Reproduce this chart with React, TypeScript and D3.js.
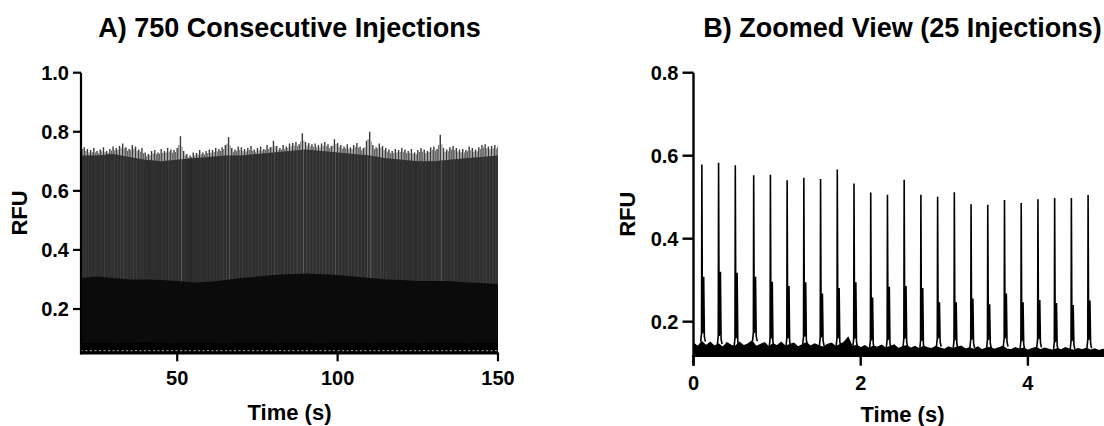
import React from "react";
import * as d3 from "d3";

// ---------- Panel A data (envelopes of 750 consecutive injections) ----------
const aStart = 20; // s, first envelope sample
const aTopEnvelope = [
  0.755, 0.748, 0.742, 0.738, 0.745, 0.735, 0.74, 0.748, 0.735, 0.742,
  0.75, 0.745, 0.752, 0.76, 0.748, 0.742, 0.755, 0.75, 0.74, 0.745,
  0.73, 0.725, 0.735, 0.738, 0.73, 0.742, 0.735, 0.745, 0.74, 0.738,
  0.745, 0.785, 0.735, 0.725, 0.72, 0.73, 0.728, 0.738, 0.73, 0.735,
  0.74, 0.738, 0.745, 0.742, 0.748, 0.755, 0.782, 0.745, 0.74, 0.75,
  0.748, 0.742, 0.745, 0.752, 0.74, 0.745, 0.75, 0.742, 0.755, 0.748,
  0.77, 0.752, 0.745, 0.755, 0.75, 0.76, 0.762, 0.765, 0.758, 0.795,
  0.765, 0.762, 0.758, 0.76, 0.755, 0.76, 0.765, 0.758, 0.752, 0.775,
  0.762, 0.755, 0.75, 0.758, 0.748, 0.755, 0.762, 0.75, 0.745, 0.77,
  0.8, 0.755, 0.748, 0.76, 0.752, 0.745, 0.74, 0.735, 0.742, 0.738,
  0.745, 0.74, 0.735, 0.742, 0.73, 0.738, 0.745, 0.74, 0.735, 0.748,
  0.75, 0.742, 0.79, 0.745, 0.74, 0.748, 0.752, 0.745, 0.74, 0.742,
  0.738, 0.75, 0.745, 0.74, 0.748, 0.755, 0.758, 0.75, 0.752, 0.755,
  0.75,
];
const aCoarseStep = 5; // s, spacing of coarse envelopes
const aDenseTop = [
  0.72, 0.72, 0.725, 0.715, 0.705, 0.7, 0.705, 0.71, 0.715, 0.72,
  0.72, 0.725, 0.73, 0.735, 0.74, 0.735, 0.73, 0.725, 0.72, 0.71,
  0.705, 0.7, 0.7, 0.705, 0.71, 0.715, 0.72,
];
const aSecondaryTop = [
  0.305, 0.31, 0.305, 0.3, 0.3, 0.298, 0.295, 0.29, 0.292, 0.298,
  0.305, 0.31, 0.315, 0.318, 0.32, 0.318, 0.315, 0.31, 0.305, 0.3,
  0.298, 0.295, 0.295, 0.295, 0.29, 0.288, 0.285,
];
const aBaselineTop = [
  0.085, 0.086, 0.084, 0.085, 0.087, 0.085, 0.084, 0.086, 0.085, 0.084,
  0.085, 0.086, 0.084, 0.085, 0.085, 0.084, 0.085, 0.086, 0.084, 0.085,
  0.085, 0.084, 0.085, 0.086, 0.084, 0.085, 0.085,
];
const aXTicks = [50, 100, 150];
const aYTicks = [0.2, 0.4, 0.6, 0.8, 1.0];

// ---------- Panel B data (25 injections, zoomed) ----------
const bPeakTimes = [
  0.1, 0.3, 0.5, 0.72, 0.92, 1.12, 1.32, 1.52, 1.72, 1.92, 2.12, 2.32,
  2.52, 2.72, 2.92, 3.12, 3.32, 3.52, 3.72, 3.92, 4.12, 4.32, 4.52, 4.72,
];
const bMainHeights = [
  0.579, 0.583, 0.577, 0.553, 0.554, 0.541, 0.547, 0.544, 0.567, 0.533,
  0.511, 0.506, 0.542, 0.506, 0.501, 0.512, 0.483, 0.482, 0.493, 0.486,
  0.495, 0.498, 0.498, 0.505,
];
const bSecondHeights = [
  0.308, 0.32, 0.318, 0.308, 0.296, 0.286, 0.295, 0.268, 0.281, 0.295,
  0.258, 0.284, 0.286, 0.281, 0.247, 0.247, 0.256, 0.242, 0.268, 0.247,
  0.252, 0.245, 0.24, 0.251,
];
const bBaseStep = 0.05; // s
const bBaseline = [
  0.148, 0.14, 0.152, 0.142, 0.15, 0.141, 0.146, 0.138, 0.149, 0.143,
  0.14, 0.15, 0.142, 0.146, 0.153, 0.14, 0.145, 0.149, 0.139, 0.146,
  0.142, 0.15, 0.14, 0.145, 0.148, 0.139, 0.144, 0.149, 0.141, 0.146,
  0.142, 0.138, 0.145, 0.148, 0.14, 0.144, 0.15, 0.162, 0.139, 0.143,
  0.137, 0.142, 0.135, 0.141, 0.138, 0.143, 0.136, 0.14, 0.144, 0.135,
  0.139, 0.142, 0.136, 0.14, 0.134, 0.141, 0.137, 0.135, 0.14, 0.136,
  0.133, 0.139, 0.135, 0.138, 0.141, 0.134, 0.137, 0.133, 0.139, 0.132,
  0.136, 0.138, 0.133, 0.137, 0.14, 0.134, 0.132, 0.137, 0.133, 0.136,
  0.131, 0.135, 0.138, 0.132, 0.136, 0.133, 0.131, 0.135, 0.132, 0.137,
  0.133, 0.131, 0.135, 0.132, 0.136, 0.131, 0.134, 0.13, 0.133, 0.131,
  0.132,
];
const bXTicks = [0, 2, 4];
const bYTicks = [0.2, 0.4, 0.6, 0.8];

const FONT = "'Liberation Sans', Arial, Helvetica, sans-serif";

export default function App() {
  const W = 1104;
  const H = 426;

  // scales
  const xA = d3.scaleLinear().domain([20, 150]).range([81, 498]);
  const yA = d3.scaleLinear().domain([0.05, 1.0]).range([353.3, 72.7]);
  const xB = d3.scaleLinear().domain([0, 5]).range([693.5, 1111.5]);
  const yB = d3.scaleLinear().domain([0.118, 0.8]).range([355.7, 72.7]);

  // Panel A
  const coarse = (arr: number[]) =>
    arr.map((v, i) => [aStart + i * aCoarseStep, v] as [number, number]);
  const areaA = d3
    .area<[number, number]>()
    .x((d) => xA(d[0]))
    .y0(yA(0.05))
    .y1((d) => yA(d[1]));
  const densePath = areaA(coarse(aDenseTop)) as string;
  const stepPx = xA(aStart + 1) - xA(aStart);
  // streak shade follows the local peak height
  const streakShade = d3
    .scaleLinear<string>()
    .domain([0.72, 0.745, 0.8])
    .range(["#262626", "#3c3c3c", "#6e6e6e"])
    .clamp(true);
  const fringeShade = d3
    .scaleLinear<string>()
    .domain([0.72, 0.8])
    .range(["#4a4a4a", "#8c8c8c"])
    .clamp(true);

  // Panel B
  const areaB = d3
    .area<[number, number]>()
    .x((d) => xB(d[0]))
    .y0(yB(0.118))
    .y1((d) => yB(d[1]));
  const lineB = d3
    .line<[number, number]>()
    .x((d) => xB(d[0]))
    .y((d) => yB(d[1]));
  const basePts = bBaseline.map((v, i) => [i * bBaseStep, v] as [number, number]);
  const baseAt = (t: number) =>
    bBaseline[Math.min(bBaseline.length - 1, Math.round(t / bBaseStep))];
  const peakPaths = bPeakTimes.map((t, i) => {
    const b = baseAt(t);
    const pts: [number, number][] = [
      [t - 0.014, b],
      [t - 0.004, b + 0.02],
      [t, bMainHeights[i]],
      [t + 0.007, b + 0.02],
      [t + 0.015, b + 0.03],
      [t + 0.022, bSecondHeights[i]],
      [t + 0.03, b + 0.012],
      [t + 0.042, b],
    ];
    return lineB(pts) as string;
  });

  const tickFont = { fontFamily: FONT, fontWeight: 700, fontSize: 20, fill: "#000" } as const;

  return (
    <>
      <style>{`body{margin:0;}`}</style>
      <svg width={W} height={H} style={{ display: "block", background: "#fff" }}>
        <defs>
          <clipPath id="clipA">
            <rect x={xA(20)} y={60} width={xA(150) - xA(20)} height={yA(0.05) - 60} />
          </clipPath>
          <clipPath id="clipDense">
            <path d={densePath} />
          </clipPath>
          <clipPath id="clipB">
            <rect x={xB(0)} y={60} width={W - xB(0)} height={yB(0.118) - 60} />
          </clipPath>
        </defs>

        {/* Titles */}
        <text x={(xA(20) + xA(150)) / 2} y={37} textAnchor="middle" style={{ ...tickFont, fontSize: 27 }}>
          A) 750 Consecutive Injections
        </text>
        <text x={(xB(0) + xB(5)) / 2} y={37} textAnchor="middle" style={{ ...tickFont, fontSize: 27 }}>
          B) Zoomed View (25 Injections)
        </text>

        {/* ---------- Panel A ---------- */}
        <g clipPath="url(#clipA)">
          {/* upper fringe: individual peak tops */}
          {aTopEnvelope.map((v, i) => (
            <line
              key={"fr" + i}
              x1={xA(aStart + i)}
              x2={xA(aStart + i)}
              y1={yA(0.6)}
              y2={yA(v)}
              stroke="#3a3a3a"
              strokeWidth={1.4}
            />
          ))}
          {aTopEnvelope.map((v, i) => (
            <line
              key={"fr2" + i}
              x1={xA(aStart + i) + stepPx / 2}
              x2={xA(aStart + i) + stepPx / 2}
              y1={yA(0.6)}
              y2={yA((v + (aTopEnvelope[i + 1] ?? v)) / 2 - 0.01)}
              stroke={fringeShade(v)}
              strokeWidth={1}
            />
          ))}
          {/* dense body */}
          <path d={densePath} fill="#2e2e2e" />
          <g clipPath="url(#clipDense)">
            {aTopEnvelope.map((v, i) => (
              <line
                key={"st" + i}
                x1={xA(aStart + i) + stepPx * 0.35}
                x2={xA(aStart + i) + stepPx * 0.35}
                y1={yA(0.1)}
                y2={yA(v)}
                stroke={streakShade(v)}
                strokeWidth={0.9}
              />
            ))}
          </g>
          <path d={areaA(coarse(aSecondaryTop)) as string} fill="#0b0b0b" />
          <path d={areaA(coarse(aBaselineTop)) as string} fill="#000" />
          <line
            x1={xA(20)}
            x2={xA(150)}
            y1={yA(0.059)}
            y2={yA(0.059)}
            stroke="#d8d8d8"
            strokeWidth={0.8}
            strokeDasharray="2 2.5"
          />
        </g>
        {/* axes A */}
        <line x1={xA(20)} x2={xA(20)} y1={yA(1.0)} y2={yA(0.05) + 1} stroke="#000" strokeWidth={2.2} />
        <line x1={xA(20) - 1} x2={xA(150) + 1} y1={yA(0.05)} y2={yA(0.05)} stroke="#000" strokeWidth={2.2} />
        {aYTicks.map((t) => (
          <g key={"ay" + t}>
            <line x1={xA(20) - 8} x2={xA(20)} y1={yA(t)} y2={yA(t)} stroke="#000" strokeWidth={2.2} />
            <text x={xA(20) - 12} y={yA(t) + 7} textAnchor="end" style={tickFont}>
              {t.toFixed(1)}
            </text>
          </g>
        ))}
        {aXTicks.map((t) => (
          <g key={"ax" + t}>
            <line x1={xA(t)} x2={xA(t)} y1={yA(0.05)} y2={yA(0.05) + 8} stroke="#000" strokeWidth={2.2} />
            <text x={xA(t)} y={385} textAnchor="middle" style={tickFont}>
              {t}
            </text>
          </g>
        ))}
        <text x={(xA(20) + xA(150)) / 2} y={420} textAnchor="middle" style={{ ...tickFont, fontSize: 22 }}>
          Time (s)
        </text>
        <text
          transform={`translate(27, ${(yA(1.0) + yA(0.05)) / 2}) rotate(-90)`}
          textAnchor="middle"
          style={{ ...tickFont, fontSize: 22 }}
        >
          RFU
        </text>

        {/* ---------- Panel B ---------- */}
        <g clipPath="url(#clipB)">
          <path d={areaB(basePts) as string} fill="#000" />
          <path d={lineB(basePts) as string} fill="none" stroke="#000" strokeWidth={1.3} />
          {peakPaths.map((p, i) => (
            <path key={"pk" + i} d={p} fill="none" stroke="#000" strokeWidth={1.6} strokeLinejoin="miter" />
          ))}
        </g>
        <line x1={xB(0)} x2={xB(0)} y1={yB(0.8)} y2={yB(0.118) + 10} stroke="#000" strokeWidth={2.4} />
        <line x1={xB(0) - 1} x2={W} y1={yB(0.118)} y2={yB(0.118)} stroke="#000" strokeWidth={2.4} />
        {bYTicks.map((t) => (
          <g key={"by" + t}>
            <line x1={xB(0) - 11} x2={xB(0)} y1={yB(t)} y2={yB(t)} stroke="#000" strokeWidth={2.4} />
            <text x={xB(0) - 15} y={yB(t) + 7} textAnchor="end" style={tickFont}>
              {t.toFixed(1)}
            </text>
          </g>
        ))}
        {bXTicks.map((t) => (
          <g key={"bx" + t}>
            <line x1={xB(t)} x2={xB(t)} y1={yB(0.118)} y2={yB(0.118) + 10} stroke="#000" strokeWidth={2.4} />
            <text x={xB(t)} y={390} textAnchor="middle" style={tickFont}>
              {t}
            </text>
          </g>
        ))}
        <text x={(xB(0) + xB(5)) / 2} y={422} textAnchor="middle" style={{ ...tickFont, fontSize: 22 }}>
          Time (s)
        </text>
        <text
          transform={`translate(635, ${(yB(0.8) + yB(0.118)) / 2}) rotate(-90)`}
          textAnchor="middle"
          style={{ ...tickFont, fontSize: 22 }}
        >
          RFU
        </text>
      </svg>
    </>
  );
}
